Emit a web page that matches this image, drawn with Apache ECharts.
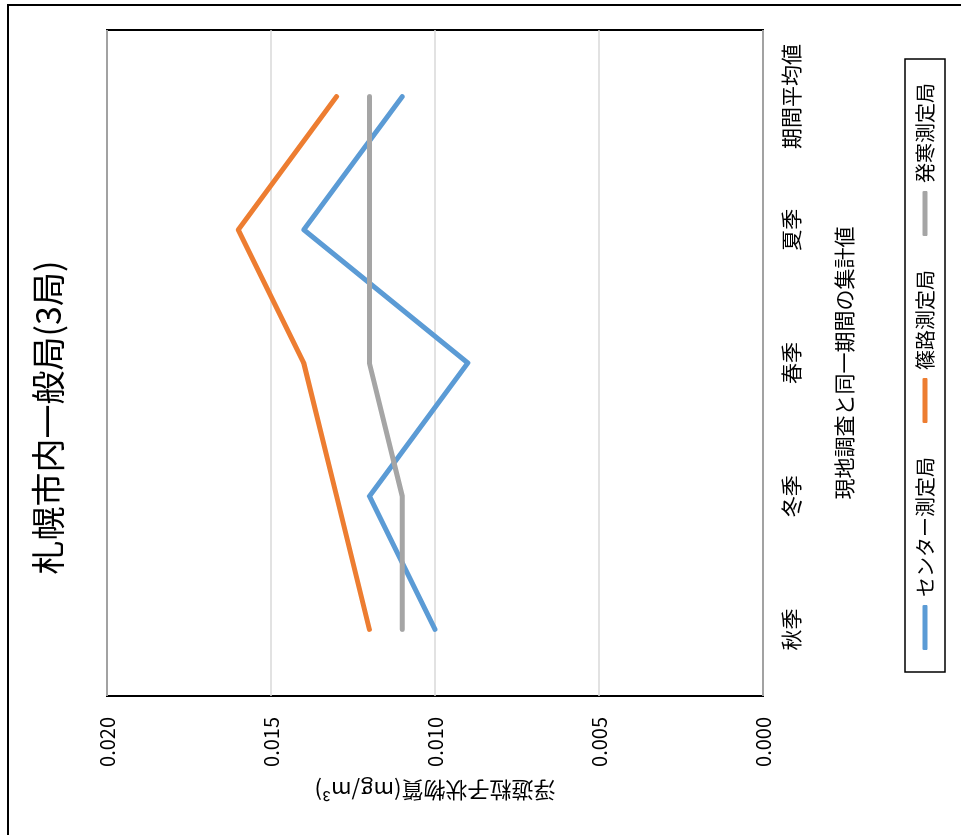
<!DOCTYPE html>
<html>
<head>
<meta charset="utf-8">
<script src="https://cdn.jsdelivr.net/npm/echarts@6/dist/echarts.min.js"></script>
<style>
  html, body { margin: 0; padding: 0; background: #fff; width: 961px; height: 835px; overflow: hidden; }
  #chart {
    position: absolute; left: 0; top: 0;
    width: 835px; height: 961px;
    transform-origin: 0 0;
    transform: translate(0px, 835px) rotate(-90deg);
  }
</style>
</head>
<body>
<div id="chart"></div>
<script>
// ---- data ----
const titleText = '札幌市内一般局(3局)';
const categories = ['秋季', '冬季', '春季', '夏季', '期間平均値'];
const seriesNames = ['センター測定局', '篠路測定局', '発寒測定局'];
const centerValues = [0.010, 0.012, 0.009, 0.014, 0.011];
const shinoroValues = [0.012, 0.013, 0.014, 0.016, 0.013];
const hassamuValues = [0.011, 0.011, 0.012, 0.012, 0.012];
const valueMin = 0.000;
const valueMax = 0.020;
const valueStep = 0.005;
const categoryAxisName = '現地調査と同一期間の集計値';
const valueAxisName = '浮遊粒子状物質(mg/m³)';

const colors = ['#5B9BD5', '#ED7D31', '#A5A5A5'];
const FONT = '"Noto Sans CJK JP", "Noto Sans", sans-serif';

const chart = echarts.init(document.getElementById('chart'), null, { renderer: 'canvas' });

function lineSeries(name, data, color) {
  return {
    name: name,
    type: 'line',
    data: data,
    symbol: 'none',
    showSymbol: false,
    smooth: false,
    lineStyle: { color: color, width: 5, cap: 'round', join: 'round' },
    itemStyle: { color: color },
    emphasis: { disabled: true },
    animation: false
  };
}

chart.setOption({
  animation: false,
  backgroundColor: '#ffffff',
  textStyle: { fontFamily: FONT, color: '#000' },
  title: {
    text: titleText,
    left: 'center',
    top: 31,
    padding: [0, 10, 0, 0],
    textStyle: { fontFamily: FONT, fontSize: 34, fontWeight: 'normal', color: '#000' }
  },
  legend: {
    data: seriesNames,
    orient: 'horizontal',
    left: 163,
    top: 905,
    padding: [10, 24, 10, 22],
    itemGap: 34,
    itemWidth: 45,
    itemHeight: 5,
    icon: 'roundRect',
    borderColor: '#000',
    borderWidth: 1.5,
    borderRadius: 0,
    selectedMode: false,
    textStyle: { fontFamily: FONT, fontSize: 20, color: '#000', padding: [0, 0, 0, 3] }
  },
  grid: {
    left: 139, top: 107, width: 666, height: 656,
    show: true, borderColor: '#000', borderWidth: 2, backgroundColor: 'transparent'
  },
  xAxis: {
    type: 'category',
    data: categories,
    boundaryGap: true,
    axisLine: { show: false },
    axisTick: { show: false },
    axisLabel: { fontFamily: FONT, fontSize: 21, color: '#000', margin: 18, interval: 0 },
    name: categoryAxisName,
    nameLocation: 'middle',
    nameGap: 71,
    nameTextStyle: { fontFamily: FONT, fontSize: 21, color: '#000' }
  },
  yAxis: {
    type: 'value',
    min: valueMin,
    max: valueMax,
    interval: valueStep,
    axisLine: { show: false },
    axisTick: { show: false },
    splitLine: { show: true, lineStyle: { color: '#D9D9D9', width: 1.5 } },
    axisLabel: {
      fontFamily: FONT, fontSize: 20, color: '#000', margin: 21,
      formatter: function (v) { return v.toFixed(3); }
    },
    name: valueAxisName,
    nameLocation: 'middle',
    nameRotate: 90,
    nameGap: 83,
    nameTextStyle: { fontFamily: FONT, fontSize: 22, color: '#000' }
  },
  graphic: [
    {
      type: 'rect',
      silent: true,
      shape: { x: -20, y: 8, width: 850, height: 1000 },
      style: { fill: 'none', stroke: '#000', lineWidth: 2 }
    }
  ],
  series: [
    lineSeries(seriesNames[0], centerValues, colors[0]),
    lineSeries(seriesNames[1], shinoroValues, colors[1]),
    lineSeries(seriesNames[2], hassamuValues, colors[2])
  ]
});
</script>
</body>
</html>
